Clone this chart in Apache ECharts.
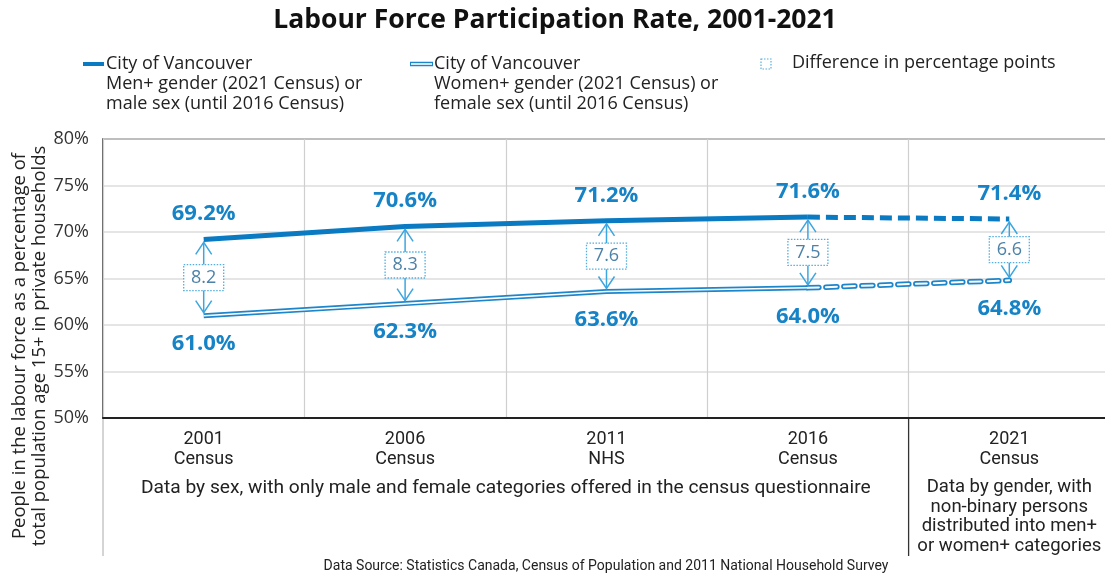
<!DOCTYPE html>
<html>
<head>
<meta charset="utf-8">
<script src="https://cdn.jsdelivr.net/npm/echarts@6/dist/echarts.min.js"></script>
<style>
  html, body { margin: 0; padding: 0; background: #fff; }
  #chart { width: 1105px; height: 576px; }
</style>
</head>
<body>
<div id="chart"></div>
<script>
// values
const categories = ['2001\nCensus', '2006\nCensus', '2011\nNHS', '2016\nCensus', '2021\nCensus'];
const menRate = [69.2, 70.6, 71.2, 71.6, 71.4];
const womenRate = [61.0, 62.3, 63.6, 64.0, 64.8];
const gapPoints = [8.2, 8.3, 7.6, 7.5, 6.6];
const yMin = 50, yMax = 80, yStep = 5;

const FONT = '"Open Sans", "Noto Sans", sans-serif';
const NARROW = 'Roboto, "Liberation Sans", sans-serif';
const BLUE = '#0a7bc2';
const WBLUE = '#1d86ca';
const LABEL = '#1683c6';
const ARROW = '#3ca6e0';
const BOX = '#55aee0';
const GAPTXT = '#4c82a8';

// solid up to 2016, dashed from 2016 to 2021
const solidPart = arr => arr.map((v, i) => (i <= 3 ? v : null));
const dashPart = arr => arr.map((v, i) => (i >= 3 ? v : null));

const chart = echarts.init(document.getElementById('chart'));

const option = {
    animation: false,
    grid: {
        left: 103, top: 139, width: 1007, height: 279,
        outerBoundsMode: 'none',
        show: true, borderColor: '#333', borderWidth: 1.5
    },
    xAxis: {
        type: 'category',
        data: categories,
        axisTick: { show: false },
        axisLine: { lineStyle: { color: '#222', width: 2 } },
        axisLabel: { color: '#222', fontSize: 18, lineHeight: 20, margin: 11, fontFamily: NARROW },
        splitLine: { show: true, lineStyle: { color: '#cfcfcf', width: 1.2 } }
    },
    yAxis: {
        type: 'value',
        min: yMin, max: yMax, interval: yStep,
        axisLine: { show: false },
        axisTick: { show: false },
        axisLabel: { formatter: '{value}%', color: '#333', fontSize: 18, margin: 14, fontFamily: FONT },
        splitLine: { lineStyle: { color: '#dcdcdc', width: 1.5 } }
    },
    series: [
        // men+
        { type: 'line', data: solidPart(menRate), symbol: 'none', z: 4,
          lineStyle: { color: BLUE, width: 5 } },
        { type: 'line', data: dashPart(menRate), symbol: 'none', z: 4,
          lineStyle: { color: BLUE, width: 5, type: [12, 6] } },
        // women+ (hollow double line)
        { type: 'line', data: solidPart(womenRate), symbol: 'none', z: 2,
          lineStyle: { color: WBLUE, width: 5 } },
        { type: 'line', data: solidPart(womenRate), symbol: 'none', z: 3,
          lineStyle: { color: '#fff', width: 1.6 } },
        { type: 'line', data: dashPart(womenRate), symbol: 'none', z: 2,
          lineStyle: { color: WBLUE, width: 5.5, type: [11, 7], cap: 'round' } },
        { type: 'line', data: dashPart(womenRate), symbol: 'none', z: 3,
          lineStyle: { color: '#fff', width: 2, type: [11, 7], cap: 'round' } },
        // value labels
        { type: 'scatter', data: menRate, symbolSize: 1, itemStyle: { color: 'transparent', opacity: 1 }, z: 6,
          label: { show: true, position: 'top', distance: 14, color: LABEL, fontSize: 22,
                   fontWeight: 'bold', fontFamily: FONT, formatter: p => p.value.toFixed(1) + '%' } },
        { type: 'scatter', data: womenRate, symbolSize: 1, itemStyle: { color: 'transparent', opacity: 1 }, z: 6,
          label: { show: true, position: 'bottom', distance: 17, color: LABEL, fontSize: 22,
                   fontWeight: 'bold', fontFamily: FONT, formatter: p => p.value.toFixed(1) + '%' } },
        // difference arrows with dotted boxes
        {
            type: 'custom',
            z: 5,
            data: gapPoints.map((g, i) => [i, menRate[i], womenRate[i], g]),
            encode: { x: 0, y: [1, 2] },
            renderItem(params, api) {
                const top = api.coord([api.value(0), api.value(1)]);
                const bot = api.coord([api.value(0), api.value(2)]);
                const x = top[0];
                const y1 = top[1] + 3, y2 = bot[1] - 3, mid = (y1 + y2) / 2;
                const aw = 8, ah = 12;
                const st = { stroke: ARROW, lineWidth: 1.5, fill: null };
                return {
                    type: 'group',
                    children: [
                        { type: 'line', shape: { x1: x, y1: y1, x2: x, y2: y2 }, style: st },
                        { type: 'polyline', shape: { points: [[x - aw, y1 + ah], [x, y1], [x + aw, y1 + ah]] }, style: st },
                        { type: 'polyline', shape: { points: [[x - aw, y2 - ah], [x, y2], [x + aw, y2 - ah]] }, style: st },
                        { type: 'rect', shape: { x: x - 20, y: mid - 13, width: 40, height: 26 },
                          style: { fill: '#fff', stroke: BOX, lineWidth: 1.3, lineDash: [1.5, 1.5] } },
                        { type: 'text', x: x, y: mid,
                          style: { text: api.value(3).toFixed(1), fill: GAPTXT, fontSize: 18, fontFamily: FONT,
                                   align: 'center', verticalAlign: 'middle' } }
                    ]
                };
            }
        }
    ],
    graphic: [
        { type: 'text', x: 555, y: 20,
          style: { text: 'Labour Force Participation Rate, 2001-2021', fill: '#111', fontSize: 26.5,
                   fontWeight: 'bold', fontFamily: FONT, align: 'center', verticalAlign: 'middle' } },
        // legend: men+
        { type: 'line', shape: { x1: 83, y1: 64, x2: 104, y2: 64 }, style: { stroke: BLUE, lineWidth: 4 } },
        { type: 'text', x: 106, y: 54,
          style: { text: 'City of Vancouver\nMen+ gender (2021 Census) or\nmale sex (until 2016 Census)',
                   fill: '#222', fontSize: 18, lineHeight: 20, fontFamily: FONT } },
        // legend: women+
        { type: 'line', shape: { x1: 410, y1: 64, x2: 433, y2: 64 }, style: { stroke: WBLUE, lineWidth: 4.5 } },
        { type: 'line', shape: { x1: 411, y1: 64, x2: 432, y2: 64 }, style: { stroke: '#fff', lineWidth: 1.6 } },
        { type: 'text', x: 434, y: 54,
          style: { text: 'City of Vancouver\nWomen+ gender (2021 Census) or\nfemale sex (until 2016 Census)',
                   fill: '#222', fontSize: 18, lineHeight: 20, fontFamily: FONT } },
        // legend: difference
        { type: 'rect', shape: { x: 761, y: 59, width: 10, height: 10 },
          style: { fill: null, stroke: BOX, lineWidth: 1.2, lineDash: [1.5, 1.5] } },
        { type: 'text', x: 792, y: 54,
          style: { text: 'Difference in percentage points', fill: '#222', fontSize: 18, fontFamily: FONT } },
        // y axis title
        { type: 'text', x: 30, y: 346, rotation: Math.PI / 2,
          style: { text: 'People in the labour force as a percentage of\ntotal population age 15+ in private households',
                   fill: '#222', fontSize: 18.5, lineHeight: 20, fontFamily: FONT,
                   align: 'center', verticalAlign: 'middle' } },
        // source
        { type: 'text', x: 606, y: 566,
          style: { text: 'Data Source: Statistics Canada, Census of Population and 2011 National Household Survey',
                   fill: '#222', fontSize: 14, fontFamily: NARROW, align: 'center', verticalAlign: 'middle' } }
    ]
};

chart.setOption(option);

// dividers and notes below the axis, placed from the category scale
const px = i => chart.convertToPixel({ xAxisIndex: 0 }, i);
const split = (px(3) + px(4)) / 2;
const axisY = chart.convertToPixel({ yAxisIndex: 0 }, yMin);
chart.setOption({
    graphic: [
        { id: 'leftRule', type: 'line', shape: { x1: 103, y1: axisY, x2: 103, y2: 556 },
          style: { stroke: '#aaa', lineWidth: 1 } },
        { id: 'splitRule', type: 'line', shape: { x1: split, y1: axisY, x2: split, y2: 556 },
          style: { stroke: '#333', lineWidth: 1.3 } },
        { id: 'noteSex', type: 'text', x: (px(0) + px(3)) / 2, y: 488,
          style: { text: 'Data by sex, with only male and female categories offered in the census questionnaire',
                   fill: '#222', fontSize: 19.2, fontFamily: NARROW, align: 'center', verticalAlign: 'middle' } },
        { id: 'noteGender', type: 'text', x: px(4), y: 478,
          style: { text: 'Data by gender, with\nnon-binary persons\ndistributed into men+\nor women+ categories',
                   fill: '#222', fontSize: 18.5, lineHeight: 19.5, fontFamily: NARROW, align: 'center' } }
    ]
});
</script>
</body>
</html>
